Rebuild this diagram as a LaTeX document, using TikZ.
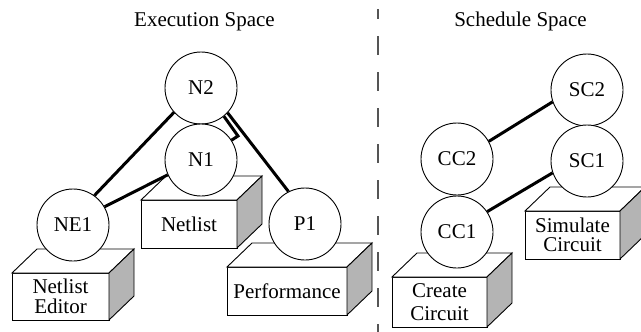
\documentclass[tikz,border=0pt]{standalone}
\usepackage{fontspec}
\setmainfont{Liberation Serif}
\definecolor{sidegray}{RGB}{180,180,180}
\definecolor{divgray}{RGB}{85,85,85}

% A box drawn as a front face (named node) with a top face and a shaded side face
\newcommand\drawcrate[6]{%
  \node[front, minimum width=#4, minimum height=#5] (#1) at (#2,#3) {#6};
  \draw[face, fill=white] (#1.north west) -- ++(25pt,24pt)
    -- ([shift={(25pt,24pt)}]#1.north east) -- (#1.north east) -- cycle;
  \draw[face, fill=sidegray] (#1.north east) -- ++(25pt,24pt)
    -- ([shift={(25pt,24pt)}]#1.south east) -- (#1.south east) -- cycle;
}

\begin{document}
\begin{tikzpicture}[x=1pt, y=-1pt,
  txt/.style={font=\fontsize{21}{21}\selectfont},
  place/.style={circle, draw, line width=0.9pt, fill=white, minimum size=72pt,
    inner sep=0pt, txt},
  front/.style={draw, line width=0.9pt, fill=white, inner sep=0pt, outer sep=0pt,
    align=center, txt},
  face/.style={line width=0.9pt, line join=miter},
  link/.style={line width=3pt},
  title/.style={anchor=base, txt},
  divider/.style={draw=divgray, line width=1.6pt, dash pattern=on 19pt off 17pt,
    dash phase=9pt}]
\useasboundingbox (0,0) rectangle (641,332);

% section titles and the divider between them
\node[title] (exec) at (204.5,27) {Execution Space};
\node[title] (sched) at (520.5,27) {Schedule Space};
\coordinate (divtop) at (378,9);
\coordinate (divbot) at (378,333);
\draw[divider] (divtop) -- (divbot);

% boxes
\drawcrate{netlist}{189}{224}{96pt}{48pt}{Netlist}
\drawcrate{editor}{60.5}{296.5}{97pt}{47pt}{Netlist\\[-1pt]Editor}
\drawcrate{perf}{287}{291}{120pt}{48pt}{Performance}
\drawcrate{simc}{572.5}{235}{95pt}{48pt}{Simulate\\[-2pt]Circuit}
\drawcrate{crc}{439.5}{302}{95pt}{50pt}{Create\\[2pt]Circuit}

% execution space nodes
\node[place] (N2) at (201,88) {N2};
\node[place] (N1) at (201,160) {N1};
\node[place] (NE1) at (73,225) {NE1};
\node[place] (P1) at (305,224) {P1};

% schedule space nodes
\node[place] (SC2) at (587,90) {SC2};
\node[place] (SC1) at (587,161) {SC1};
\node[place] (CC2) at (457,159) {CC2};
\node[place] (CC1) at (457,232) {CC1};

% connectors
\coordinate (hook) at (238,136);
\draw[link] (N2.222) -- (NE1.54);
\draw[link] (N1.204) -- (NE1.30);
\draw[link] (N2.-43) -- (P1.117);
\draw[link] (N2.-51) -- (hook) -- (N1.33);
\draw[link] (SC2.199) -- (CC2.29);
\draw[link] (SC1.199) -- (CC1.34);
\end{tikzpicture}
\end{document}
